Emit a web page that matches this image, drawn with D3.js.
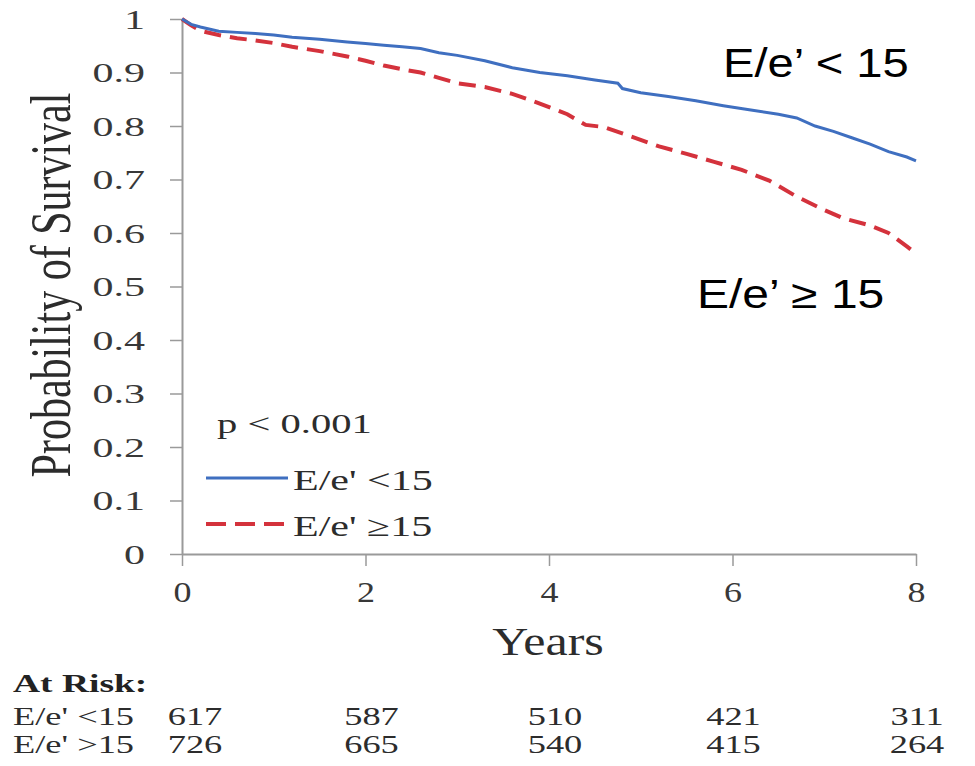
<!DOCTYPE html>
<html>
<head>
<meta charset="utf-8">
<script src="https://cdn.jsdelivr.net/npm/d3@7"></script>
<style>
  body { margin: 0; background: #fff; }
  svg { display: block; }
</style>
</head>
<body>
<svg id="chart" width="975" height="766"></svg>
<script>
// Kaplan-Meier survival estimates by E/e' group
const lowYears = [0, 0.1, 0.2, 0.4, 0.6, 0.8, 1.0, 1.2, 1.5, 1.8, 2.0, 2.2, 2.4, 2.6, 2.8, 3.0, 3.3, 3.6, 3.9, 4.2, 4.5, 4.75, 4.8, 5.0, 5.3, 5.6, 5.9, 6.2, 6.5, 6.7, 6.9, 7.1, 7.3, 7.5, 7.7, 7.9, 8.0];
const lowSurv  = [1.0, 0.990, 0.985, 0.977, 0.975, 0.973, 0.970, 0.966, 0.962, 0.957, 0.954, 0.951, 0.948, 0.945, 0.937, 0.932, 0.922, 0.909, 0.900, 0.894, 0.886, 0.880, 0.870, 0.862, 0.855, 0.847, 0.838, 0.830, 0.822, 0.815, 0.800, 0.790, 0.778, 0.766, 0.752, 0.742, 0.735];

const highYears = [0, 0.1, 0.2, 0.4, 0.6, 0.8, 1.0, 1.2, 1.5, 1.8, 2.0, 2.2, 2.4, 2.6, 2.8, 3.0, 3.3, 3.6, 3.9, 4.2, 4.4, 4.6, 4.9, 5.2, 5.5, 5.8, 6.1, 6.4, 6.7, 7.0, 7.2, 7.5, 7.7, 7.9, 8.0];
const highSurv  = [1.0, 0.988, 0.978, 0.970, 0.964, 0.960, 0.955, 0.948, 0.940, 0.930, 0.922, 0.913, 0.906, 0.900, 0.890, 0.880, 0.873, 0.860, 0.842, 0.822, 0.802, 0.798, 0.780, 0.762, 0.748, 0.733, 0.718, 0.698, 0.668, 0.643, 0.628, 0.614, 0.600, 0.575, 0.562];

// Axis ticks
const yTicks = [0, 0.1, 0.2, 0.3, 0.4, 0.5, 0.6, 0.7, 0.8, 0.9, 1];
const yTickLabels = ["0", "0.1", "0.2", "0.3", "0.4", "0.5", "0.6", "0.7", "0.8", "0.9", "1"];
const xTicks = [0, 2, 4, 6, 8];

// Numbers at risk
const riskTimes = [0, 2, 4, 6, 8];
const riskLow  = [617, 587, 510, 421, 311];
const riskHigh = [726, 665, 540, 415, 264];
const riskRowLabels = ["E/e' <15", "E/e' >15"];

// Legend and annotation text
const legendLabels = ["E/e' <15", "E/e' \u226515"];
const pValueText = "p < 0.001";
const calloutLabels = ["E/e\u2019 < 15", "E/e\u2019 \u2265 15"];

const BLUE = "#3f6fc0";
const RED = "#d4323c";
const INK = "#2c2c2c";
const SERIF = "'Liberation Serif', 'Times New Roman', serif";
const SANS = "'Liberation Sans', Arial, sans-serif";

const svg = d3.select("#chart");
svg.append("rect").attr("width", 975).attr("height", 766).attr("fill", "#fff");

const x = d3.scaleLinear().domain([0, 8]).range([182, 916]);
const y = d3.scaleLinear().domain([0, 1]).range([554, 19]);

// Text drawn with a horizontal stretch, as in the printed figure
function label(parent, px, py, str, o) {
  return parent.append("text")
    .attr("transform", `translate(${px},${py}) scale(${o.sx || 1},1)` + (o.rotate ? ` rotate(${o.rotate})` : ""))
    .attr("text-anchor", o.anchor || "start")
    .attr("font-family", o.family || SERIF)
    .attr("font-size", o.size)
    .attr("font-weight", o.weight || "normal")
    .attr("fill", o.fill || INK)
    .text(str);
}

// Axes
const yAxis = d3.axisLeft(y)
  .tickValues(yTicks)
  .tickFormat((d, i) => yTickLabels[i])
  .tickSize(12)
  .tickSizeOuter(0);
const gy = svg.append("g").attr("transform", `translate(${x(0)},0)`).call(yAxis);

const xAxis = d3.axisBottom(x)
  .tickValues(xTicks)
  .tickFormat(d3.format("d"))
  .tickSize(12)
  .tickSizeOuter(0);
const gx = svg.append("g").attr("transform", `translate(0,${y(0)})`).call(xAxis);

[gx, gy].forEach(g => {
  g.select(".domain").attr("stroke", "#9a9a9a").attr("stroke-width", 2);
  g.selectAll(".tick line").attr("stroke", "#9a9a9a").attr("stroke-width", 1.5);
  g.selectAll(".tick text")
    .attr("font-family", SERIF)
    .attr("fill", "#383838")
    .attr("x", 0).attr("y", 0).attr("dy", null);
});
gy.selectAll(".tick text")
  .attr("font-size", 28)
  .attr("dy", "0.33em")
  .attr("transform", "translate(-37,0) scale(1.5,1)");
gx.selectAll(".tick text")
  .attr("font-size", 30)
  .attr("transform", "translate(0,48) scale(1.2,1)");

// Axis titles
label(svg, 70, 285, "Probability of Survival", { size: 42, sx: 1.35, rotate: -90, anchor: "middle" });
label(svg, 548, 655, "Years", { size: 40, sx: 1.25, anchor: "middle" });

// Survival curves
const line = d3.line()
  .x(d => x(d[0]))
  .y(d => y(d[1]))
  .curve(d3.curveLinear);

svg.append("path")
  .datum(d3.zip(highYears, highSurv))
  .attr("d", line)
  .attr("fill", "none")
  .attr("stroke", RED)
  .attr("stroke-width", 4)
  .attr("stroke-dasharray", "17,9");

svg.append("path")
  .datum(d3.zip(lowYears, lowSurv))
  .attr("d", line)
  .attr("fill", "none")
  .attr("stroke", BLUE)
  .attr("stroke-width", 3);

// Legend
label(svg, 217, 433, pValueText, { size: 28, sx: 1.45 });
const legend = svg.append("g");
[0, 1].forEach(i => {
  const ly = 478 + i * 46;
  legend.append("line")
    .attr("x1", 206).attr("x2", 288)
    .attr("y1", ly).attr("y2", ly)
    .attr("stroke", i === 0 ? BLUE : RED)
    .attr("stroke-width", i === 0 ? 3 : 4)
    .attr("stroke-dasharray", i === 0 ? null : "20,9");
  label(legend, 293, ly + 12, legendLabels[i], { size: 29, sx: 1.45 });
});

// Curve callouts
label(svg, 723, 77, calloutLabels[0], { size: 40, sx: 1.18, family: SANS, fill: "#000" });
label(svg, 697, 308, calloutLabels[1], { size: 40, sx: 1.2, family: SANS, fill: "#000" });

// Numbers-at-risk table
label(svg, 13, 692, "At Risk:", { size: 25, sx: 1.5, weight: "bold", fill: "#222" });
[riskLow, riskHigh].forEach((row, r) => {
  const ry = 725 + r * 28;
  label(svg, 13, ry, riskRowLabels[r], { size: 26, sx: 1.4 });
  row.forEach((n, i) => {
    const cx = x(riskTimes[i]) + (i === 0 ? 13 : i < 3 ? 6 : 1);
    label(svg, cx, ry, n, { size: 26, sx: 1.4, anchor: "middle" });
  });
});
</script>
</body>
</html>
